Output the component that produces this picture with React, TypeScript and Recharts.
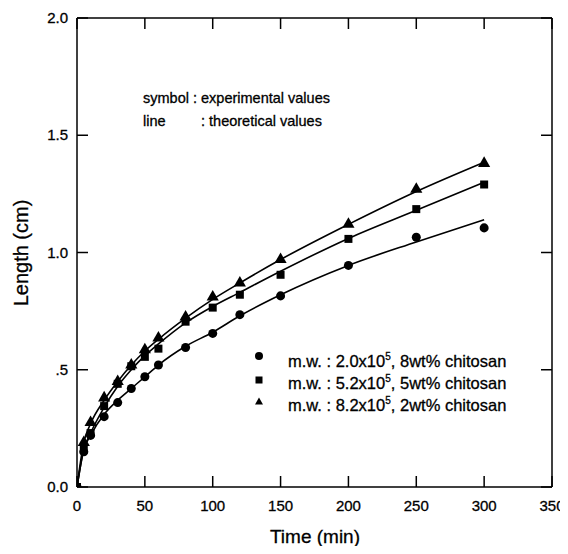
import React from 'react';
import { ComposedChart, XAxis, YAxis, Line, Scatter } from 'recharts';

const times = [0, 5, 10, 20, 30, 40, 50, 60, 80, 100, 120, 150, 200, 250, 300];
const expCircle = [0, 0.15, 0.22, 0.3, 0.36, 0.42, 0.47, 0.52, 0.595, 0.655, 0.735, 0.815, 0.945, 1.065, 1.105];
const expSquare = [0, 0.16, 0.23, 0.345, 0.44, 0.515, 0.555, 0.59, 0.705, 0.765, 0.82, 0.905, 1.058, 1.185, 1.29];
const expTriangle = [0, 0.19, 0.275, 0.38, 0.45, 0.52, 0.585, 0.635, 0.725, 0.81, 0.87, 0.97, 1.12, 1.27, 1.38];

const theoCircle = [0, 0.16, 0.22, 0.31, 0.37, 0.42, 0.47, 0.52, 0.6, 0.66, 0.73, 0.82, 0.945, 1.045, 1.14];
const theoSquare = [0, 0.16, 0.23, 0.34, 0.43, 0.5, 0.56, 0.61, 0.7, 0.77, 0.83, 0.92, 1.06, 1.18, 1.3];
const theoTriangle = [0, 0.19, 0.27, 0.37, 0.45, 0.52, 0.58, 0.63, 0.72, 0.8, 0.87, 0.97, 1.12, 1.26, 1.385];

const xTicks = [0, 50, 100, 150, 200, 250, 300, 350];
const yTicks = [0, 0.5, 1, 1.5, 2];
const yTickLabels = ['0.0', '.5', '1.0', '1.5', '2.0'];

const legendLabels = [
  { mw: '2.0x10', pct: ', 8wt% chitosan' },
  { mw: '5.2x10', pct: ', 5wt% chitosan' },
  { mw: '8.2x10', pct: ', 2wt% chitosan' },
];

const toSeries = (vals: number[]) => times.map((t, i) => ({ t, v: vals[i] }));

const FONT = '"Liberation Sans", Arial, sans-serif';
const TICK = 11;
const TXT = { fontFamily: FONT, fill: '#000', stroke: '#000', strokeWidth: 0.3 };

const BottomTick = (p: any) => (
  <g>
    <line x1={p.x} x2={p.x} y1={p.y} y2={p.y - TICK} stroke="#000" strokeWidth={1.5} />
    <text x={p.x} y={p.y + 24} textAnchor="middle" fontSize={15} {...TXT}>
      {p.payload.value}
    </text>
  </g>
);
const TopTick = (p: any) => (
  <line x1={p.x} x2={p.x} y1={p.y} y2={p.y + TICK} stroke="#000" strokeWidth={1.5} />
);
const LeftTick = (p: any) => {
  const idx = yTicks.indexOf(p.payload.value);
  return (
    <g>
      <line x1={p.x} x2={p.x + TICK} y1={p.y} y2={p.y} stroke="#000" strokeWidth={1.5} />
      <text x={p.x - 9} y={p.y + 5} textAnchor="end" fontSize={15} {...TXT}>
        {yTickLabels[idx]}
      </text>
    </g>
  );
};
const RightTick = (p: any) => (
  <line x1={p.x} x2={p.x - TICK} y1={p.y} y2={p.y} stroke="#000" strokeWidth={1.5} />
);

const axisLine = { stroke: '#000', strokeWidth: 1.5 };

export default function App() {
  return (
    <ComposedChart width={560} height={538} margin={{ top: 9, right: 8, bottom: 19, left: 9 }}>
      <XAxis
        xAxisId="b"
        dataKey="t"
        type="number"
        orientation="bottom"
        domain={[0, 350]}
        ticks={xTicks}
        height={40}
        tickSize={0}
        tickMargin={0}
        tickLine={false}
        axisLine={axisLine}
        tick={BottomTick}
        interval={0}
        allowDataOverflow
      />
      <XAxis
        xAxisId="top"
        dataKey="t"
        type="number"
        orientation="top"
        domain={[0, 350]}
        ticks={xTicks}
        height={1}
        tickSize={0}
        tickMargin={0}
        tickLine={false}
        axisLine={axisLine}
        tick={TopTick}
        interval={0}
        allowDataOverflow
      />
      <YAxis
        yAxisId="l"
        type="number"
        orientation="left"
        domain={[0, 2]}
        ticks={yTicks}
        width={60}
        tickSize={0}
        tickMargin={0}
        tickLine={false}
        axisLine={axisLine}
        tick={LeftTick}
        interval={0}
        allowDataOverflow
      />
      <YAxis
        yAxisId="r"
        type="number"
        orientation="right"
        domain={[0, 2]}
        ticks={yTicks}
        width={8}
        tickSize={0}
        tickMargin={0}
        tickLine={false}
        axisLine={axisLine}
        tick={RightTick}
        interval={0}
        allowDataOverflow
      />
      <Line xAxisId="b" yAxisId="l" data={toSeries(theoCircle)} dataKey="v" type="monotone" stroke="#000" strokeWidth={1.6} dot={false} isAnimationActive={false} />
      <Line xAxisId="b" yAxisId="l" data={toSeries(theoSquare)} dataKey="v" type="monotone" stroke="#000" strokeWidth={1.6} dot={false} isAnimationActive={false} />
      <Line xAxisId="b" yAxisId="l" data={toSeries(theoTriangle)} dataKey="v" type="monotone" stroke="#000" strokeWidth={1.6} dot={false} isAnimationActive={false} />
      <Scatter xAxisId="b" yAxisId="l" data={toSeries(expCircle)} dataKey="v" shape="circle" fill="#000" isAnimationActive={false} size={58} />
      <Scatter xAxisId="b" yAxisId="l" data={toSeries(expSquare)} dataKey="v" shape="square" fill="#000" isAnimationActive={false} size={56} />
      <Scatter xAxisId="b" yAxisId="l" data={toSeries(expTriangle)} dataKey="v" shape="triangle" fill="#000" isAnimationActive={false} size={55} />

      <text x={135} y={95} fontSize={14.5} {...TXT}>symbol : experimental values</text>
      <text x={135} y={118} fontSize={14.5} {...TXT}>line</text>
      <text x={193} y={118} fontSize={14.5} {...TXT}>: theoretical values</text>

      <circle cx={251} cy={348} r={4} fill="#000" />
      <rect x={247.5} y={368.5} width={7} height={7} fill="#000" />
      <path d="M251,389.5 L255,396.5 L247,396.5 Z" fill="#000" />
      {legendLabels.map((l, i) => (
        <text key={i} x={280} y={359 + i * 22} fontSize={16.5} {...TXT}>
          {'m.w. : ' + l.mw}
          <tspan dy={-7} fontSize={10}>5</tspan>
          <tspan dy={7}>{l.pct}</tspan>
        </text>
      ))}

      <text x={307} y={535} textAnchor="middle" fontSize={19} {...TXT}>Time (min)</text>
      <text x={20} y={245} textAnchor="middle" fontSize={20} {...TXT} transform="rotate(-90, 20, 245)">
        Length (cm)
      </text>
    </ComposedChart>
  );
}
